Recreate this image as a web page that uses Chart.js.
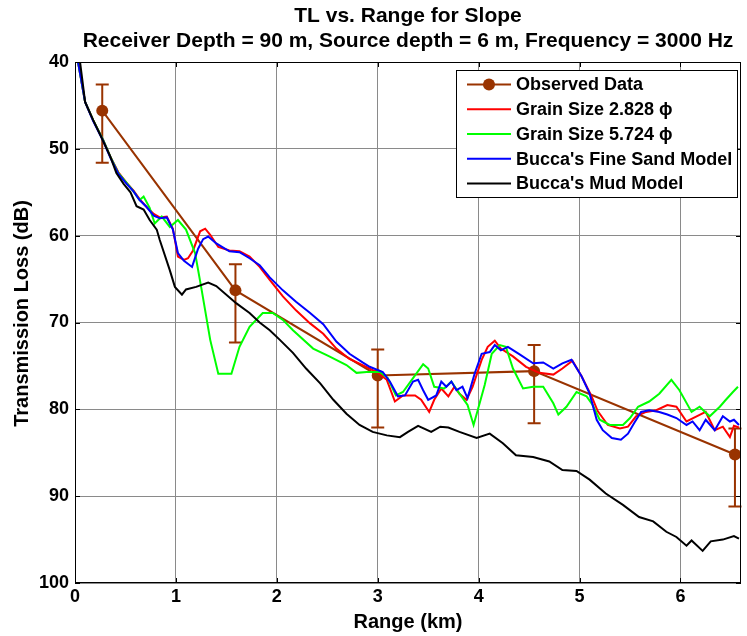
<!DOCTYPE html>
<html>
<head>
<meta charset="utf-8">
<script src="https://cdn.jsdelivr.net/npm/chart.js@4"></script>
<style>
  html, body { margin: 0; padding: 0; background: #fff; }
  #wrap { width: 747px; height: 636px; }
</style>
</head>
<body>
<div id="wrap"><canvas id="tlChart" width="747" height="636"></canvas></div>
<script>
// ===== DATA =====
const titleLines = ["TL vs. Range for Slope", "Receiver Depth = 90 m, Source depth = 6 m, Frequency = 3000 Hz"];
const yTitle = "Transmission Loss (dB)";
const xTicks = [0, 1, 2, 3, 4, 5, 6];
const yTicks = [40, 50, 60, 70, 80, 90, 100];

// observed data with error bars (dB above / below the point)
const obsRange = [0.27, 1.59, 3.0, 4.55, 6.54];
const obsTL = [45.6, 66.3, 76.1, 75.6, 85.2];
const obsErrUp = [3, 3, 3, 3, 3];
const obsErrDown = [6, 6, 6, 6, 6];

// Grain Size 2.828 phi (red)
const redRange = [0.03, 0.1, 0.18, 0.28, 0.35, 0.43, 0.51, 0.58, 0.64, 0.71, 0.78, 0.84, 0.91, 0.97, 1.02, 1.08, 1.12, 1.17, 1.24, 1.29, 1.34, 1.42, 1.53, 1.63, 1.73, 1.83, 1.93, 2.06, 2.19, 2.33, 2.46, 2.59, 2.72, 2.85, 2.99, 3.09, 3.17, 3.25, 3.37, 3.43, 3.51, 3.56, 3.63, 3.7, 3.76, 3.81, 3.88, 3.94, 4.03, 4.09, 4.16, 4.22, 4.34, 4.47, 4.6, 4.74, 4.83, 4.93, 5.02, 5.12, 5.18, 5.28, 5.4, 5.48, 5.56, 5.66, 5.76, 5.87, 5.96, 6.06, 6.16, 6.25, 6.34, 6.42, 6.49, 6.53, 6.58];
const redTL = [40.0, 44.6, 46.7, 49.0, 50.9, 52.7, 53.9, 54.8, 55.8, 56.7, 57.5, 57.9, 57.8, 59.2, 62.4, 62.8, 62.6, 61.7, 59.5, 59.2, 59.9, 61.3, 61.7, 61.8, 62.4, 63.6, 65.1, 67.0, 68.6, 70.1, 71.3, 73.0, 74.2, 74.9, 75.7, 76.6, 79.1, 78.4, 78.4, 78.9, 80.3, 78.9, 77.6, 78.5, 77.4, 78.2, 78.9, 77.4, 74.3, 72.8, 72.1, 73.0, 73.9, 75.1, 75.8, 76.0, 75.3, 74.4, 76.2, 78.5, 80.2, 81.8, 82.2, 82.0, 80.8, 80.3, 80.1, 79.5, 79.7, 81.4, 80.8, 80.3, 82.4, 82.0, 83.2, 81.9, 82.1];

// Grain Size 5.724 phi (green)
const greenRange = [0.03, 0.1, 0.18, 0.28, 0.35, 0.43, 0.51, 0.58, 0.64, 0.68, 0.74, 0.79, 0.86, 0.94, 1.02, 1.1, 1.19, 1.25, 1.34, 1.42, 1.55, 1.63, 1.73, 1.86, 1.96, 2.06, 2.16, 2.36, 2.52, 2.69, 2.79, 2.89, 3.02, 3.1, 3.18, 3.25, 3.35, 3.45, 3.5, 3.56, 3.66, 3.73, 3.81, 3.89, 3.95, 4.01, 4.06, 4.13, 4.21, 4.27, 4.34, 4.44, 4.54, 4.64, 4.74, 4.79, 4.87, 4.97, 5.07, 5.13, 5.2, 5.3, 5.43, 5.5, 5.58, 5.69, 5.79, 5.91, 5.99, 6.11, 6.19, 6.29, 6.39, 6.45, 6.52, 6.57];
const greenTL = [40.0, 44.6, 46.7, 49.0, 50.9, 52.8, 53.9, 54.9, 55.9, 55.5, 56.8, 58.6, 57.8, 59.0, 58.2, 59.3, 62.0, 65.9, 72.0, 75.9, 75.9, 72.8, 70.5, 68.9, 68.9, 69.7, 70.9, 73.0, 73.9, 74.9, 75.8, 75.7, 75.7, 76.4, 78.4, 78.0, 76.4, 74.8, 75.3, 77.4, 77.6, 76.8, 78.2, 79.5, 81.8, 79.3, 77.2, 73.6, 72.6, 72.8, 75.3, 77.6, 77.4, 77.4, 79.3, 80.6, 79.7, 78.0, 78.5, 79.5, 81.2, 81.8, 81.8, 81.0, 79.7, 79.1, 78.2, 76.6, 77.8, 80.3, 79.7, 80.8, 79.7, 78.9, 78.0, 77.4];

// Bucca's Fine Sand Model (blue)
const blueRange = [0.03, 0.1, 0.18, 0.28, 0.35, 0.43, 0.51, 0.58, 0.64, 0.71, 0.78, 0.84, 0.91, 0.97, 1.02, 1.08, 1.16, 1.22, 1.27, 1.32, 1.4, 1.53, 1.63, 1.73, 1.83, 1.93, 2.06, 2.19, 2.33, 2.46, 2.59, 2.72, 2.85, 2.92, 3.05, 3.12, 3.2, 3.27, 3.35, 3.4, 3.45, 3.5, 3.58, 3.63, 3.68, 3.73, 3.78, 3.84, 3.89, 3.96, 4.03, 4.11, 4.16, 4.22, 4.29, 4.41, 4.54, 4.64, 4.74, 4.83, 4.92, 5.02, 5.1, 5.17, 5.23, 5.32, 5.41, 5.48, 5.54, 5.61, 5.69, 5.79, 5.87, 5.96, 6.06, 6.12, 6.19, 6.25, 6.34, 6.42, 6.49, 6.53, 6.58];
const blueTL = [40.0, 44.6, 46.8, 49.1, 51.0, 52.9, 54.0, 54.9, 55.9, 56.7, 57.7, 58.0, 57.9, 59.3, 62.0, 62.9, 63.6, 61.5, 60.4, 60.1, 60.9, 61.8, 61.9, 62.6, 63.4, 64.8, 66.3, 67.6, 68.9, 70.2, 72.2, 73.6, 74.6, 75.1, 75.7, 76.8, 78.5, 78.4, 76.8, 76.6, 77.8, 78.9, 78.4, 76.8, 77.4, 76.8, 77.8, 77.4, 78.7, 75.9, 73.6, 73.4, 72.6, 73.2, 72.8, 73.7, 74.7, 74.6, 75.3, 74.7, 74.3, 76.2, 78.2, 81.2, 82.4, 83.3, 83.5, 82.8, 81.6, 80.3, 80.1, 80.3, 80.6, 81.0, 81.8, 81.4, 82.4, 81.2, 82.4, 80.8, 81.4, 81.2, 81.8];

// Bucca's Mud Model (black)
const blackRange = [0.05, 0.1, 0.18, 0.25, 0.35, 0.41, 0.48, 0.55, 0.61, 0.68, 0.74, 0.81, 0.84, 0.94, 0.99, 1.06, 1.1, 1.2, 1.32, 1.4, 1.6, 1.73, 1.83, 1.93, 2.03, 2.16, 2.29, 2.43, 2.56, 2.69, 2.82, 2.95, 3.09, 3.22, 3.3, 3.4, 3.53, 3.62, 3.7, 3.81, 3.98, 4.11, 4.24, 4.37, 4.54, 4.7, 4.83, 4.97, 5.1, 5.26, 5.43, 5.59, 5.73, 5.86, 5.96, 6.06, 6.11, 6.22, 6.3, 6.42, 6.53, 6.58];
const blackTL = [40.0, 44.6, 46.7, 48.4, 50.9, 52.8, 54.0, 55.0, 56.6, 57.0, 58.2, 59.3, 60.5, 64.0, 65.9, 66.8, 66.2, 65.9, 65.4, 65.8, 67.8, 68.9, 70.0, 70.9, 72.0, 73.5, 75.3, 77.0, 78.9, 80.5, 81.8, 82.6, 83.0, 83.2, 82.6, 81.9, 82.6, 82.0, 82.1, 82.6, 83.3, 82.8, 83.9, 85.3, 85.5, 86.0, 87.0, 87.1, 88.1, 89.7, 91.0, 92.4, 92.9, 94.1, 94.7, 95.7, 95.1, 96.3, 95.2, 95.0, 94.6, 94.9];

const BROWN = "#993300";
const FONT = "'Liberation Sans', Arial, Helvetica, sans-serif";

function zip(xs, ys) {
  return xs.map((x, i) => ({ x: x, y: ys[i] }));
}

// ===== PLUGIN: bingkai ala MATLAB, error bar, judul, legend =====
const matlabLook = {
  id: "matlabLook",
  beforeDraw(chart) {
    const ctx = chart.ctx;
    ctx.save();
    ctx.fillStyle = "#fff";
    ctx.fillRect(0, 0, chart.width, chart.height);
    ctx.restore();
  },
  beforeDatasetsDraw(chart) {
    // error bars under the lines
    const ctx = chart.ctx;
    const xs = chart.scales.x, ys = chart.scales.y;
    ctx.save();
    ctx.strokeStyle = BROWN;
    ctx.lineWidth = 2;
    obsRange.forEach((r, i) => {
      const px = xs.getPixelForValue(r);
      const top = ys.getPixelForValue(obsTL[i] - obsErrUp[i]);
      const bot = ys.getPixelForValue(obsTL[i] + obsErrDown[i]);
      ctx.beginPath();
      ctx.moveTo(px, top); ctx.lineTo(px, bot);
      ctx.moveTo(px - 6.5, top); ctx.lineTo(px + 6.5, top);
      ctx.moveTo(px - 6.5, bot); ctx.lineTo(px + 6.5, bot);
      ctx.stroke();
    });
    ctx.restore();
  },
  afterDraw(chart) {
    const ctx = chart.ctx;
    const a = chart.chartArea;
    const xs = chart.scales.x, ys = chart.scales.y;
    ctx.save();
    // box
    ctx.strokeStyle = "#000";
    ctx.lineWidth = 1;
    ctx.strokeRect(a.left + 0.5, a.top + 0.5, a.right - a.left - 1, a.bottom - a.top - 1);
    // inner tick marks
    ctx.beginPath();
    xTicks.forEach(v => {
      const p = Math.round(xs.getPixelForValue(v)) + 0.5;
      ctx.moveTo(p, a.bottom); ctx.lineTo(p, a.bottom - 5);
      ctx.moveTo(p, a.top); ctx.lineTo(p, a.top + 5);
    });
    yTicks.forEach(v => {
      const p = Math.round(ys.getPixelForValue(v)) + 0.5;
      ctx.moveTo(a.left, p); ctx.lineTo(a.left + 5, p);
      ctx.moveTo(a.right, p); ctx.lineTo(a.right - 5, p);
    });
    ctx.stroke();

    // title
    ctx.fillStyle = "#000";
    ctx.font = "bold 21px " + FONT;
    ctx.textAlign = "center";
    ctx.textBaseline = "middle";
    const cx = (a.left + a.right) / 2;
    ctx.fillText(titleLines[0], cx, 16);
    ctx.fillText(titleLines[1], cx, 41);

    // y axis title
    ctx.save();
    ctx.translate(22, (a.top + a.bottom) / 2 - 9);
    ctx.rotate(-Math.PI / 2);
    ctx.font = "bold 20px " + FONT;
    ctx.fillText(yTitle, 0, 0);
    ctx.restore();

    // legend
    const lx = 456, ly = 70, lw = 281, lh = 127;
    ctx.fillStyle = "#fff";
    ctx.fillRect(lx, ly, lw, lh);
    ctx.strokeStyle = "#000";
    ctx.lineWidth = 1;
    ctx.strokeRect(lx + 0.5, ly + 0.5, lw, lh);
    ctx.font = "bold 18px " + FONT;
    ctx.textAlign = "left";
    chart.data.datasets.forEach((ds, i) => {
      const y = 84.5 + i * 24.75;
      ctx.strokeStyle = ds.borderColor;
      ctx.lineWidth = 2;
      ctx.beginPath();
      ctx.moveTo(467, y); ctx.lineTo(511, y);
      ctx.stroke();
      if (ds.pointRadius > 0) {
        ctx.fillStyle = ds.backgroundColor;
        ctx.beginPath();
        ctx.arc(489, y, 6, 0, Math.PI * 2);
        ctx.fill();
      }
      ctx.fillStyle = "#000";
      ctx.fillText(ds.label, 516, y + 1);
    });
    ctx.restore();
  }
};

const ctx = document.getElementById("tlChart").getContext("2d");
new Chart(ctx, {
  type: "line",
  data: {
    datasets: [
      { label: "Observed Data", data: zip(obsRange, obsTL), borderColor: BROWN, backgroundColor: BROWN,
        borderWidth: 2, pointRadius: 6, pointHoverRadius: 6, pointBorderWidth: 0, order: 5 },
      { label: "Grain Size 2.828 \u03d5", data: zip(redRange, redTL), borderColor: "#ff0000", borderWidth: 2, pointRadius: 0, order: 4 },
      { label: "Grain Size 5.724 \u03d5", data: zip(greenRange, greenTL), borderColor: "#00ff00", borderWidth: 2, pointRadius: 0, order: 3 },
      { label: "Bucca's Fine Sand Model", data: zip(blueRange, blueTL), borderColor: "#0000ff", borderWidth: 2, pointRadius: 0, order: 2 },
      { label: "Bucca's Mud Model", data: zip(blackRange, blackTL), borderColor: "#000000", borderWidth: 2, pointRadius: 0, order: 1 }
    ]
  },
  options: {
    responsive: false,
    animation: false,
    events: [],
    layout: { padding: { top: 62, right: 5, left: 0, bottom: 0 } },
    plugins: {
      legend: { display: false },
      title: { display: false },
      tooltip: { enabled: false }
    },
    elements: { line: { tension: 0 } },
    scales: {
      x: {
        type: "linear",
        min: 0,
        max: 6.6,
        afterFit(s) { s.height = 53; },
        ticks: { stepSize: 1, includeBounds: false, padding: 3, color: "#000",
          font: { family: FONT, size: 18, weight: "bold" } },
        grid: { color: "#8a8a8a", lineWidth: 1, drawTicks: false },
        border: { display: false },
        title: { display: true, text: "Range (km)", color: "#000", padding: { top: 0, bottom: 2 },
          font: { family: FONT, size: 20, weight: "bold" } }
      },
      y: {
        type: "linear",
        reverse: true,
        min: 40,
        max: 100,
        afterFit(s) { s.width = 75; },
        ticks: { stepSize: 10, includeBounds: false, padding: 6, color: "#000",
          font: { family: FONT, size: 18, weight: "bold" } },
        grid: { color: "#8a8a8a", lineWidth: 1, drawTicks: false },
        border: { display: false },
        title: { display: false }
      }
    }
  },
  plugins: [matlabLook]
});
</script>
</body>
</html>
